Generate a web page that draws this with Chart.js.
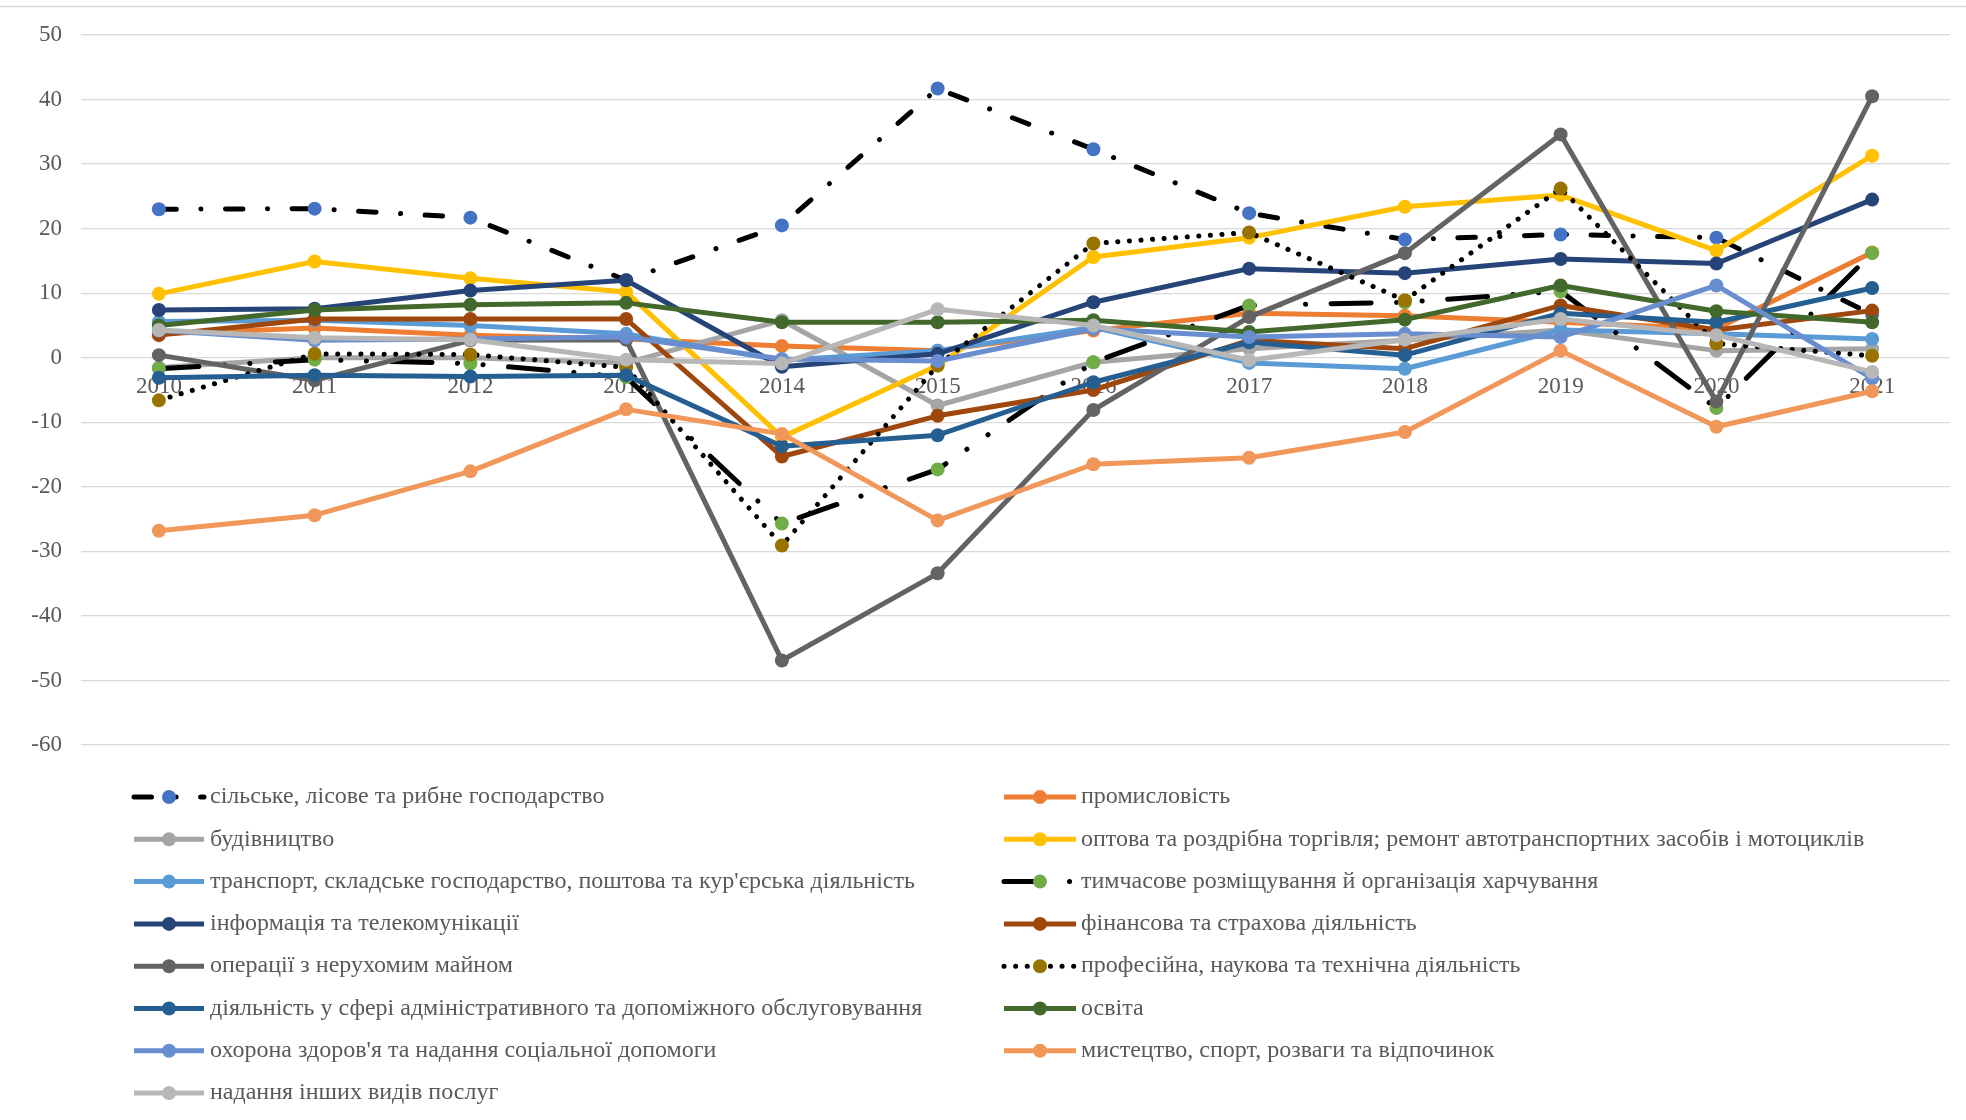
<!DOCTYPE html>
<html>
<head>
<meta charset="utf-8">
<script src="https://cdn.jsdelivr.net/npm/chart.js@4.4.0/dist/chart.umd.min.js"></script>
<style>
  body { margin: 0; background: #fff; }
  canvas { display: block; }
</style>
</head>
<body>
<canvas id="chart" width="1966" height="1120"></canvas>
<script>
// years on the category axis
const years = ["2010", "2011", "2012", "2013", "2014", "2015", "2016", "2017", "2018", "2019", "2020", "2021"];

const seriesNames = [
  "сільське, лісове та рибне господарство",
  "промисловість",
  "будівництво",
  "оптова та роздрібна торгівля; ремонт автотранспортних засобів і мотоциклів",
  "транспорт, складське господарство, поштова та кур'єрська діяльність",
  "тимчасове розміщування й організація харчування",
  "інформація та телекомунікації",
  "фінансова та страхова діяльність",
  "операції з нерухомим майном",
  "професійна, наукова та технічна діяльність",
  "діяльність у сфері адміністративного та допоміжного обслуговування",
  "освіта",
  "охорона здоров'я та надання соціальної допомоги",
  "мистецтво, спорт, розваги та відпочинок",
  "надання інших видів послуг"
];

// values, one array per series
const agriculture   = [23.0, 23.1, 21.7, 12.0, 20.5, 41.7, 32.3, 22.4, 18.3, 19.1, 18.6, 6.7];
const industry      = [3.7, 4.6, 3.5, 2.9, 1.8, 1.1, 4.2, 6.9, 6.5, 5.5, 4.5, 16.3];
const construction  = [-1.5, 0.0, 0.0, -0.8, 5.8, -7.4, -0.7, 1.4, 2.7, 4.3, 1.1, 1.4];
const trade         = [9.9, 14.9, 12.3, 10.2, -12.3, -1.2, 15.6, 18.6, 23.4, 25.2, 16.6, 31.3];
const transport     = [5.6, 5.8, 5.0, 3.7, -0.4, 1.1, 4.7, -0.8, -1.7, 4.3, 3.7, 2.9];
const accommodation = [-1.7, -0.3, -0.9, -3.0, -25.7, -17.3, -0.7, 8.1, 8.6, 10.3, -7.8, 16.2];
const infoTelecom   = [7.4, 7.6, 10.4, 12.0, -1.4, 0.6, 8.6, 13.8, 13.1, 15.3, 14.6, 24.5];
const finance       = [3.5, 6.0, 6.0, 6.0, -15.3, -9.0, -5.0, 2.7, 1.4, 8.1, 4.3, 7.3];
const realEstate    = [0.4, -3.5, 2.7, 2.8, -46.9, -33.4, -8.1, 6.3, 16.2, 34.6, -6.8, 40.5];
const professional  = [-6.6, 0.6, 0.5, -1.5, -29.1, -1.2, 17.7, 19.4, 8.9, 26.2, 2.2, 0.3];
const administrative = [-3.1, -2.7, -2.9, -2.7, -13.7, -12.0, -3.8, 2.4, 0.4, 6.9, 5.5, 10.8];
const education     = [5.0, 7.4, 8.2, 8.5, 5.5, 5.5, 5.8, 4.0, 5.9, 11.2, 7.2, 5.5];
const health        = [4.2, 2.7, 2.9, 3.2, -0.2, -0.5, 4.5, 3.2, 3.7, 3.2, 11.2, -3.2];
const arts          = [-26.8, -24.4, -17.6, -8.0, -11.8, -25.2, -16.5, -15.5, -11.5, 1.1, -10.7, -5.2];
const otherServices = [4.3, 3.1, 2.8, -0.3, -0.9, 7.5, 5.0, -0.4, 2.8, 6.0, 3.5, -2.2];

const seriesValues = [agriculture, industry, construction, trade, transport, accommodation,
  infoTelecom, finance, realEstate, professional, administrative, education, health, arts, otherServices];

// tick labels of the value axis
const yMin = -60, yMax = 50, yStep = 10;

// styles
const markerColors = ["#4472C4", "#ED7D31", "#A5A5A5", "#FFC000", "#5B9BD5", "#70AD47", "#264478",
  "#9E480E", "#636363", "#997300", "#255E91", "#43682B", "#698ED0", "#F1975A", "#B7B7B7"];
const lineColors = markerColors.map((c, i) => (i === 0 || i === 5 || i === 9) ? "#000000" : c);
const dashes = markerColors.map(() => []);
dashes[0] = [17.5, 24.5, 0.1, 24.5];            // long dash dot
dashes[5] = [40, 25.5, 0.1, 25.5, 0.1, 25.5];   // long dash dot dot
dashes[9] = [0.1, 11.5];                        // round dots

const serif = '"Liberation Serif", "Times New Roman", serif';
const textColor = "#595959";

const datasets = seriesNames.map((name, i) => ({
  label: name,
  data: seriesValues[i],
  borderColor: lineColors[i],
  backgroundColor: markerColors[i],
  pointBackgroundColor: markerColors[i],
  pointBorderColor: markerColors[i],
  pointBorderWidth: 0,
  pointRadius: 7,
  borderWidth: 5,
  borderDash: dashes[i],
  borderCapStyle: dashes[i].length ? "round" : "butt",
  borderJoinStyle: "round",
  tension: 0,
  fill: false,
  order: seriesNames.length - i   // later series on top, as in the original
}));

// two-column legend under the plot
const legendGrid = {
  id: "legendGrid",
  afterDraw(chart) {
    const ctx = chart.ctx;
    const cols = [{ x0: 134, x1: 204, tx: 210 }, { x0: 1004, x1: 1076, tx: 1081 }];
    const top = 797, rowH = 42.3;
    ctx.save();
    chart.data.datasets.forEach((ds, i) => {
      const c = cols[i % 2];
      const y = top + Math.floor(i / 2) * rowH;
      ctx.strokeStyle = ds.borderColor;
      ctx.lineWidth = ds.borderWidth;
      ctx.lineCap = ds.borderCapStyle;
      ctx.setLineDash(ds.borderDash);
      ctx.beginPath();
      ctx.moveTo(c.x0, y);
      ctx.lineTo(c.x1, y);
      ctx.stroke();
      ctx.setLineDash([]);
      ctx.fillStyle = ds.pointBackgroundColor;
      ctx.beginPath();
      ctx.arc((c.x0 + c.x1) / 2, y, ds.pointRadius, 0, Math.PI * 2);
      ctx.fill();
      ctx.fillStyle = textColor;
      ctx.font = "24px " + serif;
      ctx.textBaseline = "middle";
      ctx.textAlign = "left";
      ctx.fillText(ds.label, c.tx, y);
    });
    ctx.restore();
  }
};

const frameLine = {
  id: "frameLine",
  beforeDraw(chart) {
    const ctx = chart.ctx;
    ctx.save();
    ctx.fillStyle = "#ffffff";
    ctx.fillRect(0, 0, chart.width, chart.height);
    ctx.strokeStyle = "#D9D9D9";
    ctx.lineWidth = 1.3;
    ctx.beginPath();
    ctx.moveTo(0, 6.5);
    ctx.lineTo(chart.width, 6.5);
    ctx.stroke();
    ctx.restore();
  }
};

new Chart(document.getElementById("chart").getContext("2d"), {
  type: "line",
  data: { labels: years, datasets: datasets },
  options: {
    responsive: false,
    animation: false,
    layout: { padding: { top: 35, left: 0, right: 16, bottom: 375 } },
    plugins: {
      legend: { display: false },
      tooltip: { enabled: false }
    },
    scales: {
      x: {
        type: "category",
        offset: true,
        position: { y: 0 },
        grid: { display: false },
        border: { display: false },
        ticks: { color: textColor, font: { family: serif, size: 23 }, padding: 7, maxRotation: 0 }
      },
      y: {
        min: yMin,
        max: yMax,
        afterFit(scale) { scale.width = 81; },
        grid: { color: "#D9D9D9", lineWidth: 1.3, drawTicks: false },
        border: { display: false },
        ticks: { stepSize: yStep, color: textColor, font: { family: serif, size: 23 }, padding: 19 }
      }
    }
  },
  plugins: [frameLine, legendGrid]
});
</script>
</body>
</html>
